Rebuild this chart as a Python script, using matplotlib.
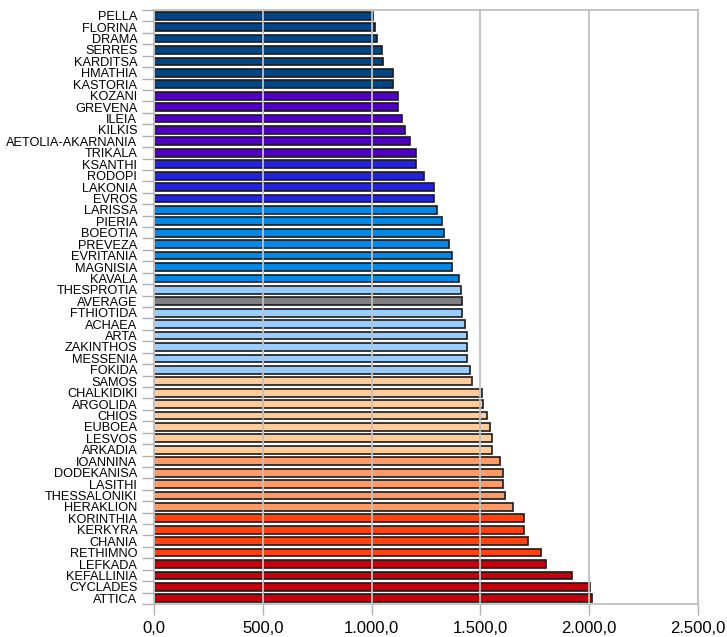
import numpy as np
import matplotlib.pyplot as plt
from matplotlib.ticker import FuncFormatter

# prefecturas, de arriba hacia abajo
prefecturas = ["PELLA", "FLORINA", "DRAMA", "SERRES", "KARDITSA", "HMATHIA", "KASTORIA",
               "KOZANI", "GREVENA", "ILEIA", "KILKIS", "AETOLIA-AKARNANIA", "TRIKALA",
               "KSANTHI", "RODOPI", "LAKONIA", "EVROS",
               "LARISSA", "PIERIA", "BOEOTIA", "PREVEZA", "EVRITANIA", "MAGNISIA", "KAVALA",
               "THESPROTIA", "AVERAGE",
               "FTHIOTIDA", "ACHAEA", "ARTA", "ZAKINTHOS", "MESSENIA", "FOKIDA",
               "SAMOS", "CHALKIDIKI", "ARGOLIDA", "CHIOS", "EUBOEA", "LESVOS", "ARKADIA",
               "IOANNINA", "DODEKANISA", "LASITHI", "THESSALONIKI", "HERAKLION",
               "KORINTHIA", "KERKYRA", "CHANIA", "RETHIMNO",
               "LEFKADA", "KEFALLINIA", "CYCLADES", "ATTICA"]

valores = [1008, 1016, 1023, 1046, 1054, 1100, 1100,
           1123, 1121, 1140, 1153, 1177, 1204,
           1204, 1242, 1287, 1287,
           1302, 1325, 1333, 1356, 1371, 1371, 1402,
           1410, 1417,
           1415, 1431, 1438, 1438, 1438, 1452,
           1462, 1505, 1514, 1528, 1544, 1551, 1551,
           1589, 1604, 1604, 1613, 1649,
           1702, 1702, 1717, 1777,
           1802, 1922, 2005, 2013]

ticks_x = [0, 500, 1000, 1500, 2000, 2500]

# colores por grupo
grupos = [("#004586", 7), ("#5000c4", 6), ("#2323dc", 4), ("#0088e8", 7),
          ("#99ccff", 1), ("#808080", 1), ("#99ccff", 6), ("#ffcc99", 7),
          ("#ff9966", 5), ("#ff420e", 4), ("#c5000b", 4)]
colores = []
for c, k in grupos:
    colores += [c] * k

plt.rcParams['font.family'] = ['Liberation Sans', 'DejaVu Sans']

fig = plt.figure(figsize=(7.27, 6.37), dpi=100)
ax = fig.add_axes([0.2118, 0.0518, 0.7484, 0.9325])

y = np.arange(len(prefecturas))
ax.barh(y, valores, height=0.68, color=colores, edgecolor="#1a1a1a", linewidth=1.2, zorder=2)

ax.set_xlim(0, 2500)
ax.set_ylim(len(prefecturas) - 0.5, -0.5)
ax.set_xticks(ticks_x)
ax.xaxis.set_major_formatter(FuncFormatter(
    lambda v, p: ("{:,.1f}".format(v)).replace(",", "X").replace(".", ",").replace("X", ".")))
ax.grid(axis="x", color="#c0c0c0", linewidth=1.3, zorder=3)
ax.set_axisbelow(False)

ax.set_yticks(y)
ax.set_yticklabels(prefecturas, fontsize=9.2)
ax.set_yticks(np.arange(-0.5, len(prefecturas), 1), minor=True)
ax.tick_params(axis="y", which="major", length=0, pad=12)
ax.tick_params(axis="y", which="minor", length=9, color="#b0b0b0", width=1)
ax.tick_params(axis="x", length=8, color="#b0b0b0", width=1, labelsize=12, pad=4)

for s in ax.spines.values():
    s.set_color("#c0c0c0")
    s.set_linewidth(1.3)

plt.savefig("out.png", dpi=100)
